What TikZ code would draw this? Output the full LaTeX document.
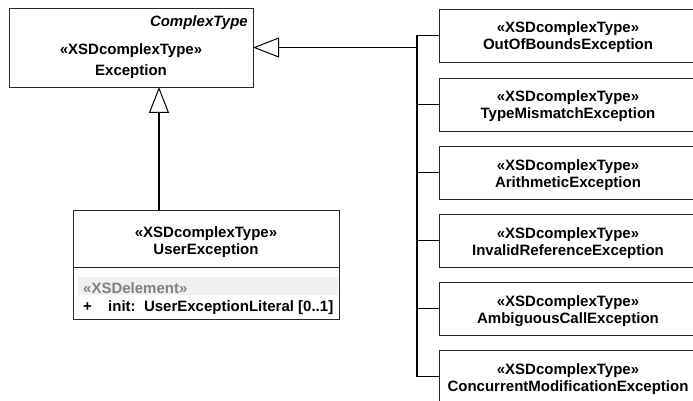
\documentclass[tikz,border=0pt]{standalone}
\usepackage{fontspec}
\setmainfont{Liberation Sans}
\usetikzlibrary{arrows.meta}
\begin{document}
\begin{tikzpicture}[x=1pt,y=-1pt,
  umlbox/.style={draw=black!85,line width=0.8pt,fill=white,inner sep=0pt,outer sep=0pt,rectangle},
  rbox/.style={umlbox,minimum width=258pt,minimum height=53pt,anchor=north west},
  txt/.style={font=\bfseries\fontsize{15}{17}\selectfont,inner sep=0pt,anchor=base},
  conn/.style={draw=black,line width=1.1pt},
  gen/.style={conn,-{Triangle[open,length=26pt,width=20pt,line width=1pt]}}]
\useasboundingbox (0,0) rectangle (693,401);
\clip (0,0) rectangle (693,401);

% Exception
\node[umlbox,minimum width=244pt,minimum height=79pt,anchor=north west] (ex) at (9,8) {};
\node[txt,anchor=base east,font=\bfseries\itshape\fontsize{15}{17}\selectfont] (exct) at (248,27) {ComplexType};
\node[txt] (exst) at (131,55) {«XSDcomplexType»};
\node[txt] (exnm) at (131,76) {Exception};

% UserException
\node[umlbox,minimum width=266pt,minimum height=109pt,anchor=north west] (ue) at (73,210) {};
\draw[draw=black!85,line width=0.8pt] (73,267) coordinate (uedl) -- (339,267) coordinate (uedr);
\fill[black!6] (78,277) rectangle (338,295);
\node[txt] (uest) at (206,237) {«XSDcomplexType»};
\node[txt] (uenm) at (206,254) {UserException};
\node[txt,anchor=base west,text=black!50] (uexe) at (83,293) {«XSDelement»};
\node[txt,anchor=base west] (uepl) at (83,311) {+};
\node[txt,anchor=base west] (ueat) at (108,311) {init:\ \ UserExceptionLiteral [0..1]};

% right boxes
\node[rbox] (b1) at (439,9) {};
\node[rbox] (b2) at (439,78) {};
\node[rbox] (b3) at (439,146) {};
\node[rbox] (b4) at (439,214) {};
\node[rbox] (b5) at (439,282) {};
\node[rbox] (b6) at (439,350) {};
\foreach \b/\n in {b1/OutOfBoundsException,b2/TypeMismatchException,b3/ArithmeticException,b4/InvalidReferenceException,b5/AmbiguousCallException,b6/ConcurrentModificationException}{
  \node[txt] (\b st) at ([yshift=-24pt]\b.north) {«XSDcomplexType»};
  \node[txt] (\b nm) at ([yshift=-41pt]\b.north) {\n};
}

% connectors
\coordinate (bus) at (417,47.5);
\foreach \b in {b1,b2,b3,b4,b5,b6}{
  \draw[conn] (\b.west) -- (\b.west -| bus);
}
\draw[conn] (b1.west -| bus) -- (b6.west -| bus);
\draw[gen] (ex.east -| bus) -- (ex.east);
\draw[gen] ([xshift=-47pt]ue.north) -- ([xshift=-47pt]ue.north |- ex.south);
\end{tikzpicture}
\end{document}
